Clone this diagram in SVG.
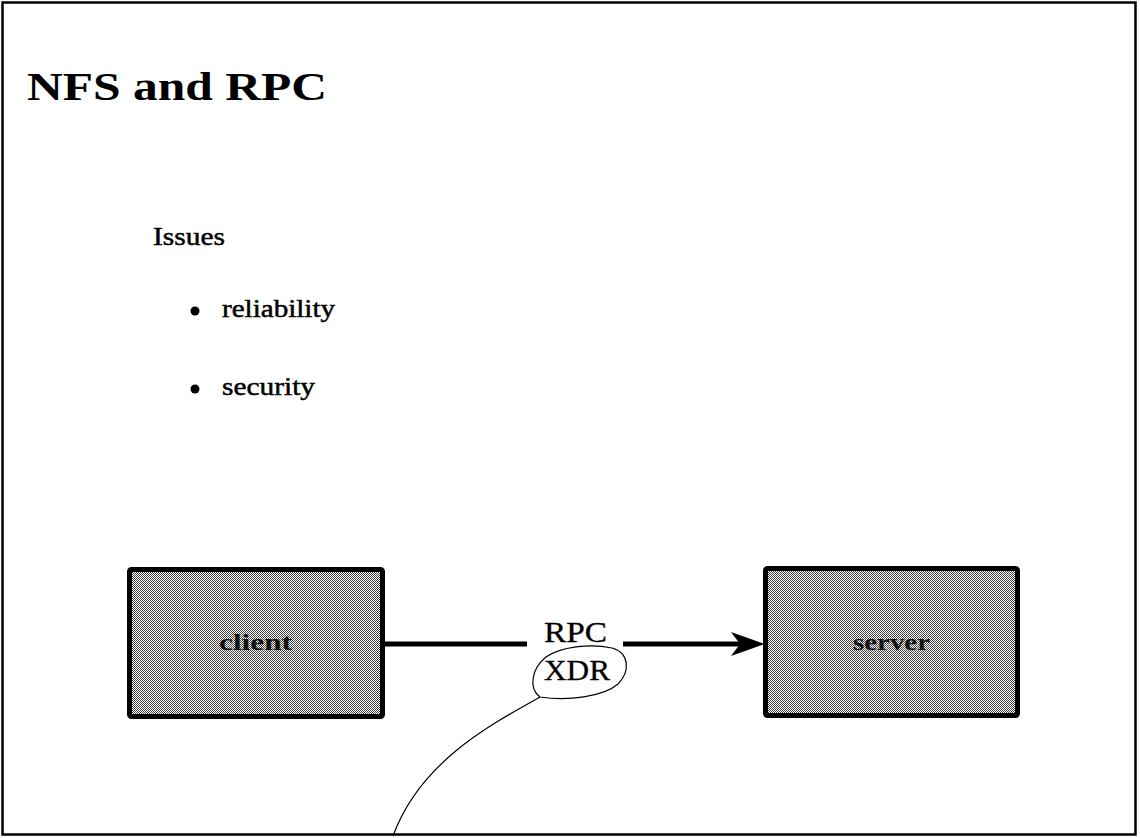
<svg xmlns="http://www.w3.org/2000/svg" width="1140" height="838" viewBox="0 0 1140 838">
  <style>
    .serif { font-family: "Liberation Serif", "Times New Roman", serif; fill: #000; }
    .title { font-size: 41px; font-weight: bold; }
    .body { font-size: 26px; stroke: #000; stroke-width: 0.5; }
    .node { font-size: 24px; font-weight: bold; fill: #111; }
    .label { font-size: 29px; stroke: #000; stroke-width: 0.3; }
    .box { fill: url(#stipple); stroke: #000; stroke-width: 5; }
    .conn { stroke: #000; stroke-width: 5; fill: none; }
    .thin { stroke: #000; stroke-width: 1.2; fill: none; }
  </style>
  <defs>
    <pattern id="stipple" width="2" height="2" patternUnits="userSpaceOnUse">
      <rect width="2" height="2" fill="#ffffff"/>
      <rect x="0" y="0" width="1" height="1" fill="#444"/>
      <rect x="1" y="1" width="1" height="1" fill="#444"/>
    </pattern>
  </defs>
  <rect width="1140" height="838" fill="#fff"/>
  <rect x="2.5" y="2.5" width="1133" height="832" fill="none" stroke="#000" stroke-width="2.5"/>

  <g id="title">
    <text class="serif title" x="27" y="100" textLength="300" lengthAdjust="spacingAndGlyphs">NFS and RPC</text>
  </g>

  <g id="issues">
    <text class="serif body" x="153" y="245" textLength="72" lengthAdjust="spacingAndGlyphs">Issues</text>
    <circle cx="195" cy="311" r="4.5" fill="#000"/>
    <text class="serif body" x="222" y="317" textLength="113" lengthAdjust="spacingAndGlyphs">reliability</text>
    <circle cx="195" cy="389" r="4.5" fill="#000"/>
    <text class="serif body" x="222" y="395" textLength="93" lengthAdjust="spacingAndGlyphs">security</text>
  </g>

  <g id="client">
    <rect class="box" x="129.5" y="569.5" width="253" height="147" rx="2"/>
    <text class="serif node" x="219" y="650" textLength="73" lengthAdjust="spacingAndGlyphs">client</text>
  </g>

  <g id="server">
    <rect class="box" x="765.5" y="568.5" width="252" height="147" rx="2"/>
    <text class="serif node" x="853" y="650" textLength="77" lengthAdjust="spacingAndGlyphs">server</text>
  </g>

  <g id="connectors">
    <line class="conn" x1="385" y1="644" x2="527" y2="644"/>
    <line class="conn" x1="623" y1="644" x2="740" y2="644"/>
    <path d="M765,644 L731,632 L740,644 L731,656 Z" fill="#000"/>
    <g id="rpc-label">
      <text class="serif label" x="544" y="642" textLength="63" lengthAdjust="spacingAndGlyphs">RPC</text>
      <text class="serif label" x="544" y="680" textLength="66" lengthAdjust="spacingAndGlyphs">XDR</text>
      <path class="thin" d="M540,697 C528,688 532,668 546,657 C560,647 590,643 612,648 C630,653 630,672 618,684 C603,697 568,701 540,697 Z"/>
      <path class="thin" d="M540,697 C490,725 420,762 393,836"/>
    </g>
  </g>
</svg>
